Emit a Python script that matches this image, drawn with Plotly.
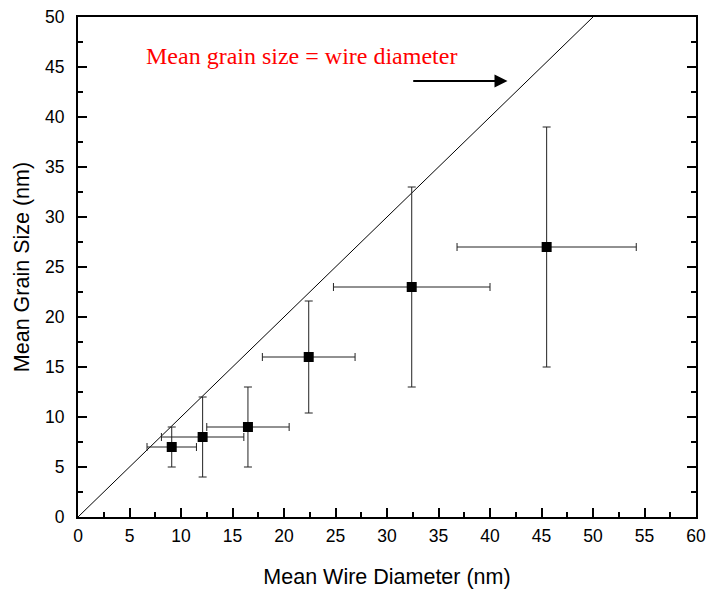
import plotly.graph_objects as go

# Data
wire_diameter = [9.1, 12.1, 16.5, 22.4, 32.4, 45.5]
grain_size = [7, 8, 9, 16, 23, 27]
diameter_err = [2.4, 4.0, 4.0, 4.5, 7.6, 8.7]
grain_err = [2, 4, 4, 5.6, 10, 12]

ref_line_x = [0, 60]
ref_line_y = [0, 60]

x_ticks = list(range(0, 61, 5))
y_ticks = list(range(0, 51, 5))

fig = go.Figure()

fig.add_trace(go.Scatter(
    x=ref_line_x, y=ref_line_y, mode="lines",
    line=dict(color="black", width=1), showlegend=False, hoverinfo="skip",
))

fig.add_trace(go.Scatter(
    x=wire_diameter, y=grain_size, mode="markers",
    marker=dict(symbol="square", size=10, color="black"),
    error_x=dict(type="data", array=diameter_err, color="#222222", thickness=1, width=4),
    error_y=dict(type="data", array=grain_err, color="#222222", thickness=1, width=4),
    showlegend=False,
))

fig.add_annotation(
    x=6.4, y=46.1, xref="x", yref="y", xanchor="left", yanchor="middle",
    text="Mean grain size = wire diameter", showarrow=False,
    font=dict(family="Liberation Serif", size=24, color="#ff0000"),
)

fig.add_annotation(
    x=41.7, y=43.6, ax=32.4, ay=43.6, xref="x", yref="y", axref="x", ayref="y",
    text="", showarrow=True, arrowhead=2, arrowsize=1.3, arrowwidth=2, arrowcolor="black",
)

axis_common = dict(
    showgrid=False, zeroline=False, showline=True, linecolor="black", linewidth=2,
    ticks="inside", ticklen=9, tickwidth=1.5, tickcolor="black",
    tickfont=dict(family="Liberation Sans", size=17.5, color="black"),
    automargin=False,
)

fig.update_xaxes(
    range=[0, 60], tickvals=x_ticks, mirror=True, ticklabelstandoff=2,
    title=dict(text="Mean Wire Diameter (nm)", font=dict(family="Liberation Sans", size=21.5, color="black"), standoff=24),
    minor=dict(ticks="inside", ticklen=5, tickwidth=1.5, tickcolor="black", dtick=2.5, tick0=0),
    **axis_common,
)
fig.update_yaxes(
    range=[0, 50], tickvals=y_ticks, mirror="ticks", ticklabelstandoff=8,
    title=dict(text="Mean Grain Size (nm)", font=dict(family="Liberation Sans", size=21.5, color="black"), standoff=10),
    minor=dict(ticks="inside", ticklen=5, tickwidth=1.5, tickcolor="black", dtick=2.5, tick0=0),
    **axis_common,
)

fig.update_layout(
    width=706, height=590,
    margin=dict(l=78, r=10, t=17, b=73, autoexpand=False),
    plot_bgcolor="white", paper_bgcolor="white",
)

fig.write_html("out.html")
